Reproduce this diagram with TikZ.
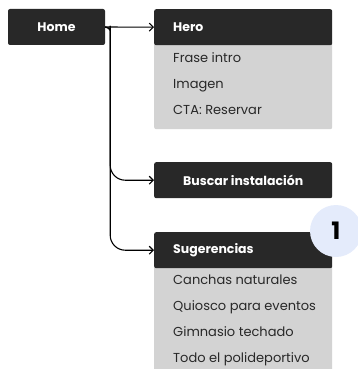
\documentclass[tikz,border=0pt]{standalone}
\usepackage{fontspec}
\setmainfont{Poppins}
\usetikzlibrary{positioning,arrows.meta}

\definecolor{boxdark}{HTML}{282828}
\definecolor{boxgray}{HTML}{D3D3D3}
\definecolor{badgeblue}{HTML}{E4EBFB}

\tikzset{
  head/.style={fill=boxdark, text=white, rounded corners=2pt, inner sep=0pt,
    minimum height=36pt, font=\fontsize{12.5}{14}\selectfont\bfseries},
  headleft/.style={head, anchor=north west, minimum width=178pt,
    text width=140pt, align=left, inner xsep=19pt},
  panel/.style={fill=boxgray, rounded corners=2pt, inner sep=0pt, minimum width=178pt},
  item/.style={anchor=base west, inner sep=0pt, text=boxdark, font=\fontsize{13}{15}\selectfont},
  link/.style={line width=1.1pt, -{Straight Barb[length=4pt,width=8pt]}}
}

\begin{document}
\begin{tikzpicture}[x=1pt,y=-1pt]
  \clip (0,0) rectangle (358,369);

  \node [head, minimum width=97pt] (home) at (56.5,27) {Home};

  % hero block
  \node [panel, minimum height=88pt, anchor=north west] (herobody) at (154,41) {};
  \node [headleft] (hero) at (154,9) {Hero};
  \node [item] (frase) at ([xshift=19pt,yshift=-17.5pt]hero.south west) {Frase intro};
  \node [item, below=26pt of frase.base west, anchor=base west] (imagen) {Imagen};
  \node [item, below=26pt of imagen.base west, anchor=base west] (cta) {CTA: Reservar};

  \node [head, minimum width=178pt, anchor=north west] (buscar) at (154,162) {Buscar instalación};

  % sugerencias block
  \node [panel, minimum height=140pt, anchor=north west] (sugbody) at (154,264) {};
  \node [headleft] (sug) at (154,232) {Sugerencias};
  \node [item] (canchas) at ([xshift=19pt,yshift=-16.5pt]sug.south west) {Canchas naturales};
  \node [item, below=26pt of canchas.base west, anchor=base west] (quiosco) {Quiosco para eventos};
  \node [item, below=26pt of quiosco.base west, anchor=base west] (gimnasio) {Gimnasio techado};
  \node [item, below=26pt of gimnasio.base west, anchor=base west] (todo) {Todo el polideportivo};

  \node [circle, fill=badgeblue, minimum size=52pt, inner sep=0pt,
    font=\fontsize{24}{26}\selectfont\bfseries, text=black] (badge) at (336,231) {1};

  \coordinate (trunk) at ([xshift=5pt,yshift=-14pt]home.east);
  \draw [link] (home.east) -- (hero.west);
  \draw [link, rounded corners=15pt] (home.east) to[out=0,in=90] (trunk) |- (buscar.west);
  \draw [link, rounded corners=15pt] (home.east) to[out=0,in=90] (trunk) |- (sug.west);
\end{tikzpicture}
\end{document}
